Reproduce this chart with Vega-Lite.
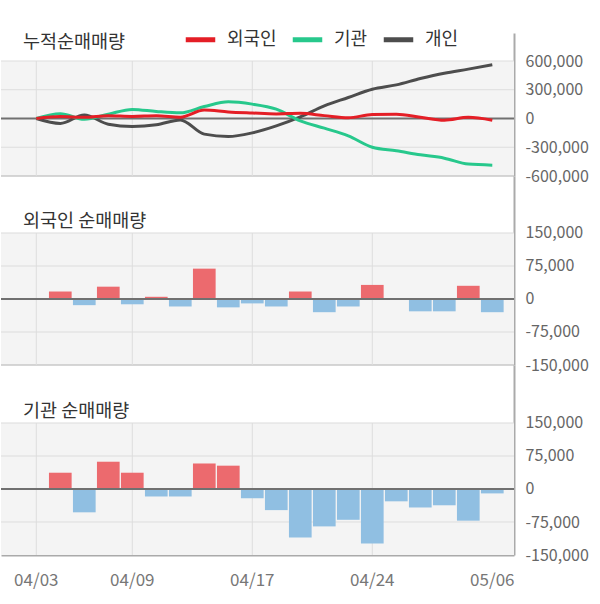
{
  "$schema": "https://vega.github.io/schema/vega-lite/v6.json",
  "padding": {"left": 0, "top": 22, "right": 4, "bottom": 10},
  "background": "#ffffff",
  "spacing": 0,
  "bounds": "flush",
  "resolve": {"scale": {"x": "independent", "y": "independent", "color": "independent"}},
  "config": {
    "view": {"stroke": null},
    "font": "Noto Sans CJK KR",
    "axis": {"labelFont": "Noto Sans CJK KR"},
    "legend": {"labelFont": "Noto Sans CJK KR"},
    "title": {"font": "Noto Sans CJK KR"}
  },
  "datasets": {
    "net": [
      {"d": "04/03", "f": 0, "g": 0},
      {"d": "04/04", "f": 17000, "g": 37000},
      {"d": "04/05", "f": -14000, "g": -53000},
      {"d": "04/08", "f": 28000, "g": 62000},
      {"d": "04/09", "f": -12000, "g": 37000},
      {"d": "04/11", "f": 5000, "g": -17000},
      {"d": "04/12", "f": -17000, "g": -17000},
      {"d": "04/15", "f": 69000, "g": 58000},
      {"d": "04/16", "f": -19000, "g": 53000},
      {"d": "04/17", "f": -10000, "g": -21000},
      {"d": "04/18", "f": -17000, "g": -48000},
      {"d": "04/19", "f": 17000, "g": -110000},
      {"d": "04/22", "f": -30000, "g": -85000},
      {"d": "04/23", "f": -17000, "g": -70000},
      {"d": "04/24", "f": 32000, "g": -124000},
      {"d": "04/25", "f": 0, "g": -28000},
      {"d": "04/26", "f": -28000, "g": -42000},
      {"d": "04/29", "f": -28000, "g": -37000},
      {"d": "04/30", "f": 30000, "g": -72000},
      {"d": "05/06", "f": -30000, "g": -10000}
    ],
    "cum": [
      {"d": "04/03", "s": "개인", "v": 0},
      {"d": "04/04", "s": "개인", "v": -52000},
      {"d": "04/05", "s": "개인", "v": 36000},
      {"d": "04/08", "s": "개인", "v": -59000},
      {"d": "04/09", "s": "개인", "v": -83000},
      {"d": "04/11", "s": "개인", "v": -66000},
      {"d": "04/12", "s": "개인", "v": -15000},
      {"d": "04/15", "s": "개인", "v": -163000},
      {"d": "04/16", "s": "개인", "v": -188000},
      {"d": "04/17", "s": "개인", "v": -150000},
      {"d": "04/18", "s": "개인", "v": -77000},
      {"d": "04/19", "s": "개인", "v": 17000},
      {"d": "04/22", "s": "개인", "v": 132000},
      {"d": "04/23", "s": "개인", "v": 219000},
      {"d": "04/24", "s": "개인", "v": 306000},
      {"d": "04/25", "s": "개인", "v": 351000},
      {"d": "04/26", "s": "개인", "v": 417000},
      {"d": "04/29", "s": "개인", "v": 473000},
      {"d": "04/30", "s": "개인", "v": 515000},
      {"d": "05/06", "s": "개인", "v": 560000},
      {"d": "04/03", "s": "기관", "v": 0},
      {"d": "04/04", "s": "기관", "v": 50000},
      {"d": "04/05", "s": "기관", "v": -8000},
      {"d": "04/08", "s": "기관", "v": 45000},
      {"d": "04/09", "s": "기관", "v": 95000},
      {"d": "04/11", "s": "기관", "v": 73000},
      {"d": "04/12", "s": "기관", "v": 59000},
      {"d": "04/15", "s": "기관", "v": 125000},
      {"d": "04/16", "s": "기관", "v": 174000},
      {"d": "04/17", "s": "기관", "v": 150000},
      {"d": "04/18", "s": "기관", "v": 97000},
      {"d": "04/19", "s": "기관", "v": -24000},
      {"d": "04/22", "s": "기관", "v": -101000},
      {"d": "04/23", "s": "기관", "v": -181000},
      {"d": "04/24", "s": "기관", "v": -300000},
      {"d": "04/25", "s": "기관", "v": -337000},
      {"d": "04/26", "s": "기관", "v": -379000},
      {"d": "04/29", "s": "기관", "v": -414000},
      {"d": "04/30", "s": "기관", "v": -476000},
      {"d": "05/06", "s": "기관", "v": -487000},
      {"d": "04/03", "s": "외국인", "v": 0},
      {"d": "04/04", "s": "외국인", "v": 20000},
      {"d": "04/05", "s": "외국인", "v": 12000},
      {"d": "04/08", "s": "외국인", "v": 30000},
      {"d": "04/09", "s": "외국인", "v": 22000},
      {"d": "04/11", "s": "외국인", "v": 28000},
      {"d": "04/12", "s": "외국인", "v": 14000},
      {"d": "04/15", "s": "외국인", "v": 88000},
      {"d": "04/16", "s": "외국인", "v": 68000},
      {"d": "04/17", "s": "외국인", "v": 57000},
      {"d": "04/18", "s": "외국인", "v": 48000},
      {"d": "04/19", "s": "외국인", "v": 54000},
      {"d": "04/22", "s": "외국인", "v": 30000},
      {"d": "04/23", "s": "외국인", "v": 8000},
      {"d": "04/24", "s": "외국인", "v": 42000},
      {"d": "04/25", "s": "외국인", "v": 45000},
      {"d": "04/26", "s": "외국인", "v": 14000},
      {"d": "04/29", "s": "외국인", "v": -18000},
      {"d": "04/30", "s": "외국인", "v": 12000},
      {"d": "05/06", "s": "외국인", "v": -18000}
    ]
  },
  "vconcat": [
    {
      "width": 513,
      "height": 143,
      "title": {"text": "누적순매매량", "anchor": "start", "frame": "group", "orient": "top", "offset": -44, "dx": 22, "baseline": "alphabetic", "fontSize": 18.5, "fontWeight": "normal", "color": "#333333"},
      "layer": [
        {"data": {"values": [{}]}, "mark": {"type": "rect", "color": "#f4f4f4"},
         "encoding": {"y": {"datum": 600000, "type": "quantitative", "scale": {"domain": [-600000, 892174], "nice": false, "zero": false}}, "y2": {"datum": -600000}}},
        {"data": {"values": [{}]}, "mark": {"type": "rule", "color": "#dddddd", "strokeWidth": 1},
         "encoding": {"y": {"datum": 600000, "type": "quantitative", "scale": {"domain": [-600000, 892174], "nice": false, "zero": false}}}},
        {"data": {"values": [{}]}, "mark": {"type": "rule", "color": "#dddddd", "strokeWidth": 1},
         "encoding": {"y": {"datum": 300000, "type": "quantitative", "scale": {"domain": [-600000, 892174], "nice": false, "zero": false}}}},
        {"data": {"values": [{}]}, "mark": {"type": "rule", "color": "#dddddd", "strokeWidth": 1},
         "encoding": {"y": {"datum": -300000, "type": "quantitative", "scale": {"domain": [-600000, 892174], "nice": false, "zero": false}}}},
        {"data": {"values": [{}]}, "mark": {"type": "rule", "color": "#c8c8c8", "strokeWidth": 1.5},
         "encoding": {"y": {"datum": -600000, "type": "quantitative", "scale": {"domain": [-600000, 892174], "nice": false, "zero": false}}}},
        {"data": {"name": "net"},
         "transform": [{"filter": {"field": "d", "oneOf": ["04/03", "04/09", "04/17", "04/24"]}}],
         "mark": {"type": "rule", "color": "#dddddd", "strokeWidth": 1},
         "encoding": {
           "x": {"field": "d", "type": "ordinal", "bandPosition": 0.5, "axis": null, "scale": {"type": "band", "paddingInner": 0.055, "paddingOuter": 0.715, "align": 0.698, "domain": ["04/03","04/04","04/05","04/08","04/09","04/11","04/12","04/15","04/16","04/17","04/18","04/19","04/22","04/23","04/24","04/25","04/26","04/29","04/30","05/06"]}},
           "y": {"datum": 600000, "type": "quantitative", "scale": {"domain": [-600000, 892174], "nice": false, "zero": false}},
           "y2": {"datum": -600000}}},
        {"data": {"values": [{}]}, "mark": {"type": "rule", "color": "#707070", "strokeWidth": 2},
         "encoding": {"y": {"datum": 0, "type": "quantitative", "scale": {"domain": [-600000, 892174], "nice": false, "zero": false}}}},
        {"data": {"name": "cum"},
         "mark": {"type": "line", "interpolate": "monotone", "strokeWidth": 3},
         "encoding": {
           "x": {"field": "d", "type": "ordinal", "bandPosition": 0.5, "axis": null, "scale": {"type": "band", "paddingInner": 0.055, "paddingOuter": 0.715, "align": 0.698, "domain": ["04/03","04/04","04/05","04/08","04/09","04/11","04/12","04/15","04/16","04/17","04/18","04/19","04/22","04/23","04/24","04/25","04/26","04/29","04/30","05/06"]}},
           "y": {"field": "v", "type": "quantitative", "scale": {"domain": [-600000, 892174], "nice": false, "zero": false},
                 "axis": {"orient": "right", "values": [600000, 300000, 0, -300000, -600000], "tickCount": 20, "title": null, "grid": false, "ticks": false, "domain": true, "domainColor": "#aaaaaa", "domainWidth": 2, "labelColor": "#666666", "labelFontSize": 16, "labelPadding": 11, "labelAlign": "left", "labelBaseline": "middle", "labelOverlap": false, "labelExpr": "replace(format(datum.value, ','), '−', '-')"}},
           "color": {"field": "s", "type": "nominal",
                     "scale": {"domain": ["외국인", "기관", "개인"], "range": ["#e41e26", "#27c88c", "#4d4d4d"]},
                     "legend": {"orient": "none", "legendX": 182, "legendY": -11, "direction": "horizontal", "title": null, "symbolType": "stroke", "symbolStrokeWidth": 5, "symbolSize": 870, "labelFontSize": 18, "labelColor": "#333333", "columnPadding": 5, "labelOffset": 9, "padding": 0, "labelLimit": 0}}
         }}
      ]
    },
    {
      "width": 513,
      "height": 189,
      "title": {"text": "외국인 순매매량", "anchor": "start", "frame": "group", "orient": "top", "offset": -69, "dx": 22, "baseline": "alphabetic", "fontSize": 18.5, "fontWeight": "normal", "color": "#333333"},
      "layer": [
        {"data": {"values": [{}]}, "mark": {"type": "rect", "color": "#f4f4f4"},
         "encoding": {"y": {"datum": 150000, "type": "quantitative", "scale": {"domain": [-150000, 279545], "nice": false, "zero": false}}, "y2": {"datum": -150000}}},
        {"data": {"values": [{}]}, "mark": {"type": "rule", "color": "#dddddd", "strokeWidth": 1},
         "encoding": {"y": {"datum": 150000, "type": "quantitative", "scale": {"domain": [-150000, 279545], "nice": false, "zero": false}}}},
        {"data": {"values": [{}]}, "mark": {"type": "rule", "color": "#dddddd", "strokeWidth": 1},
         "encoding": {"y": {"datum": 75000, "type": "quantitative", "scale": {"domain": [-150000, 279545], "nice": false, "zero": false}}}},
        {"data": {"values": [{}]}, "mark": {"type": "rule", "color": "#dddddd", "strokeWidth": 1},
         "encoding": {"y": {"datum": -75000, "type": "quantitative", "scale": {"domain": [-150000, 279545], "nice": false, "zero": false}}}},
        {"data": {"values": [{}]}, "mark": {"type": "rule", "color": "#c8c8c8", "strokeWidth": 1.5},
         "encoding": {"y": {"datum": -150000, "type": "quantitative", "scale": {"domain": [-150000, 279545], "nice": false, "zero": false}}}},
        {"data": {"name": "net"},
         "transform": [{"filter": {"field": "d", "oneOf": ["04/03", "04/09", "04/17", "04/24"]}}],
         "mark": {"type": "rule", "color": "#dddddd", "strokeWidth": 1},
         "encoding": {
           "x": {"field": "d", "type": "ordinal", "bandPosition": 0.5, "axis": null, "scale": {"type": "band", "paddingInner": 0.055, "paddingOuter": 0.715, "align": 0.698, "domain": ["04/03","04/04","04/05","04/08","04/09","04/11","04/12","04/15","04/16","04/17","04/18","04/19","04/22","04/23","04/24","04/25","04/26","04/29","04/30","05/06"]}},
           "y": {"datum": 150000, "type": "quantitative", "scale": {"domain": [-150000, 279545], "nice": false, "zero": false}},
           "y2": {"datum": -150000}}},
        {"data": {"name": "net"},
         "mark": {"type": "bar"},
         "encoding": {
           "x": {"field": "d", "type": "ordinal", "axis": null, "scale": {"type": "band", "paddingInner": 0.055, "paddingOuter": 0.715, "align": 0.698, "domain": ["04/03","04/04","04/05","04/08","04/09","04/11","04/12","04/15","04/16","04/17","04/18","04/19","04/22","04/23","04/24","04/25","04/26","04/29","04/30","05/06"]}},
           "y": {"field": "f", "type": "quantitative", "scale": {"domain": [-150000, 279545], "nice": false, "zero": false},
                 "axis": {"orient": "right", "values": [150000, 75000, 0, -75000, -150000], "tickCount": 20, "title": null, "grid": false, "ticks": false, "domain": true, "domainColor": "#aaaaaa", "domainWidth": 2, "labelColor": "#666666", "labelFontSize": 16, "labelPadding": 11, "labelAlign": "left", "labelBaseline": "middle", "labelOverlap": false, "labelExpr": "replace(format(datum.value, ','), '−', '-')"}},
           "y2": {"datum": 0},
           "color": {"condition": {"test": "datum.f > 0", "value": "#ec6a6e"}, "value": "#90bfe2"}
         }},
        {"data": {"values": [{}]}, "mark": {"type": "rule", "color": "#707070", "strokeWidth": 2},
         "encoding": {"y": {"datum": 0, "type": "quantitative", "scale": {"domain": [-150000, 279545], "nice": false, "zero": false}}}}
      ]
    },
    {
      "width": 513,
      "height": 190,
      "title": {"text": "기관 순매매량", "anchor": "start", "frame": "group", "orient": "top", "offset": -70, "dx": 22, "baseline": "alphabetic", "fontSize": 18.5, "fontWeight": "normal", "color": "#333333"},
      "layer": [
        {"data": {"values": [{}]}, "mark": {"type": "rect", "color": "#f4f4f4"},
         "encoding": {"y": {"datum": 150000, "type": "quantitative", "scale": {"domain": [-150000, 281818], "nice": false, "zero": false}}, "y2": {"datum": -150000}}},
        {"data": {"values": [{}]}, "mark": {"type": "rule", "color": "#dddddd", "strokeWidth": 1},
         "encoding": {"y": {"datum": 150000, "type": "quantitative", "scale": {"domain": [-150000, 281818], "nice": false, "zero": false}}}},
        {"data": {"values": [{}]}, "mark": {"type": "rule", "color": "#dddddd", "strokeWidth": 1},
         "encoding": {"y": {"datum": 75000, "type": "quantitative", "scale": {"domain": [-150000, 281818], "nice": false, "zero": false}}}},
        {"data": {"values": [{}]}, "mark": {"type": "rule", "color": "#dddddd", "strokeWidth": 1},
         "encoding": {"y": {"datum": -75000, "type": "quantitative", "scale": {"domain": [-150000, 281818], "nice": false, "zero": false}}}},
        {"data": {"name": "net"},
         "transform": [{"filter": {"field": "d", "oneOf": ["04/03", "04/09", "04/17", "04/24"]}}],
         "mark": {"type": "rule", "color": "#dddddd", "strokeWidth": 1},
         "encoding": {
           "x": {"field": "d", "type": "ordinal", "bandPosition": 0.5, "scale": {"type": "band", "paddingInner": 0.055, "paddingOuter": 0.715, "align": 0.698, "domain": ["04/03","04/04","04/05","04/08","04/09","04/11","04/12","04/15","04/16","04/17","04/18","04/19","04/22","04/23","04/24","04/25","04/26","04/29","04/30","05/06"]}},
           "y": {"datum": 150000, "type": "quantitative", "scale": {"domain": [-150000, 281818], "nice": false, "zero": false}},
           "y2": {"datum": -150000}}},
        {"data": {"name": "net"},
         "mark": {"type": "bar"},
         "encoding": {
           "x": {"field": "d", "type": "ordinal", "scale": {"type": "band", "paddingInner": 0.055, "paddingOuter": 0.715, "align": 0.698, "domain": ["04/03","04/04","04/05","04/08","04/09","04/11","04/12","04/15","04/16","04/17","04/18","04/19","04/22","04/23","04/24","04/25","04/26","04/29","04/30","05/06"]},
                 "axis": {"values": ["04/03", "04/09", "04/17", "04/24", "05/06"], "title": null, "grid": false, "ticks": false, "domain": true, "domainColor": "#aaaaaa", "domainWidth": 2, "labelColor": "#777777", "labelFontSize": 17, "labelPadding": 17, "labelAngle": 0, "labelAlign": "center", "labelBaseline": "top", "bandPosition": 0.5, "labelOverlap": false}},
           "y": {"field": "g", "type": "quantitative", "scale": {"domain": [-150000, 281818], "nice": false, "zero": false},
                 "axis": {"orient": "right", "values": [150000, 75000, 0, -75000, -150000], "tickCount": 20, "title": null, "grid": false, "ticks": false, "domain": true, "domainColor": "#aaaaaa", "domainWidth": 2, "labelColor": "#666666", "labelFontSize": 16, "labelPadding": 11, "labelAlign": "left", "labelBaseline": "middle", "labelOverlap": false, "labelExpr": "replace(format(datum.value, ','), '−', '-')"}},
           "y2": {"datum": 0},
           "color": {"condition": {"test": "datum.g > 0", "value": "#ec6a6e"}, "value": "#90bfe2"}
         }},
        {"data": {"values": [{}]}, "mark": {"type": "rule", "color": "#707070", "strokeWidth": 2},
         "encoding": {"y": {"datum": 0, "type": "quantitative", "scale": {"domain": [-150000, 281818], "nice": false, "zero": false}}}}
      ]
    }
  ]
}
